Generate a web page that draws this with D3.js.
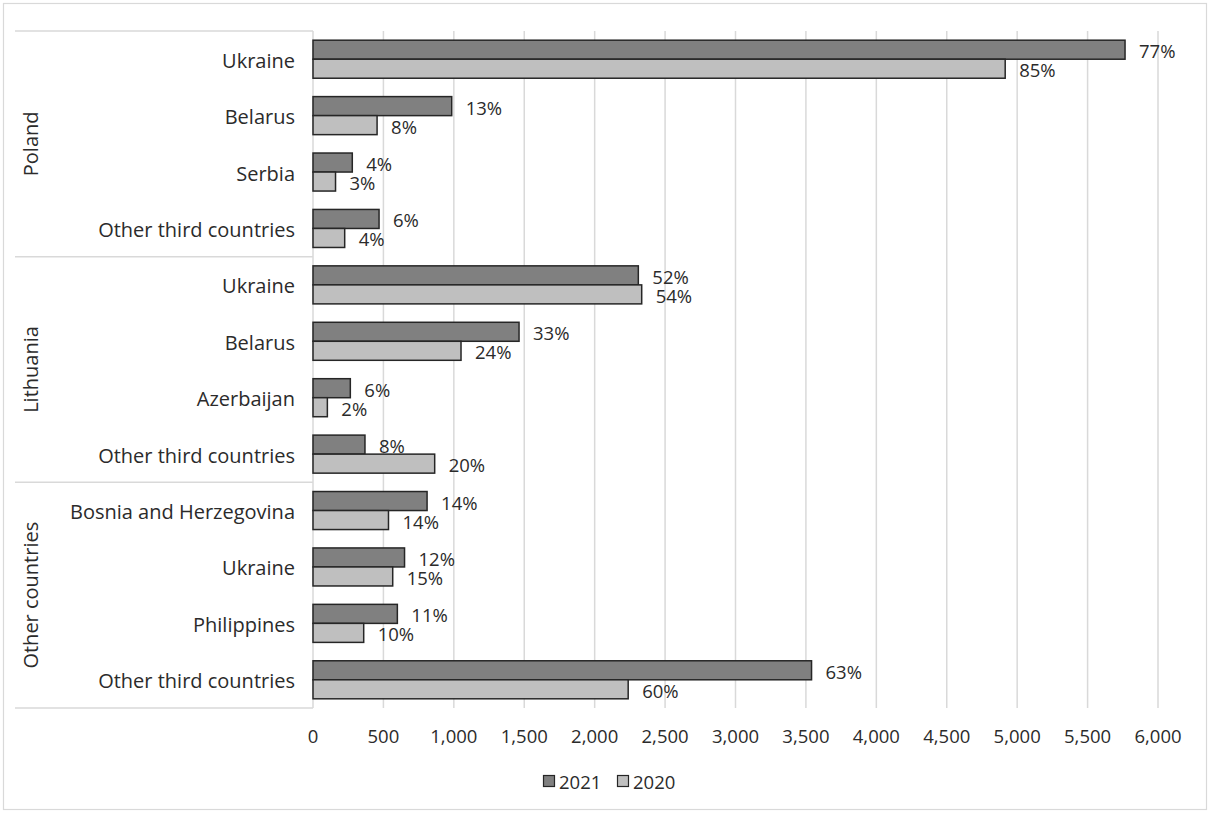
<!DOCTYPE html>
<html>
<head>
<meta charset="utf-8">
<script src="https://cdn.jsdelivr.net/npm/d3@7"></script>
<style>
  html, body { margin: 0; padding: 0; background: #fff; }
  svg { display: block; }
  text { font-family: "Century Gothic", "Open Sans", Lato, sans-serif; fill: #2b2b2b; }
</style>
</head>
<body>
<svg id="chart" width="1210" height="814"></svg>
<script>
// Destination groups and the countries listed under each
const groups = ["Poland", "Lithuania", "Other countries"];
const countries = [
  "Ukraine", "Belarus", "Serbia", "Other third countries",
  "Ukraine", "Belarus", "Azerbaijan", "Other third countries",
  "Bosnia and Herzegovina", "Ukraine", "Philippines", "Other third countries"
];

// Values per year
const series = ["2021", "2020"];
const values2021 = [5766, 985, 279, 469, 2310, 1463, 265, 369, 810, 650, 599, 3540];
const values2020 = [4915, 455, 160, 225, 2334, 1051, 102, 864, 536, 566, 360, 2238];

// Share of the group total, as printed next to each bar
const labels2021 = ["77%", "13%", "4%", "6%", "52%", "33%", "6%", "8%", "14%", "12%", "11%", "63%"];
const labels2020 = ["85%", "8%", "3%", "4%", "54%", "24%", "2%", "20%", "14%", "15%", "10%", "60%"];

// Value axis ticks
const xTicks = [0, 500, 1000, 1500, 2000, 2500, 3000, 3500, 4000, 4500, 5000, 5500, 6000];

const colors = { "2021": "#808080", "2020": "#bfbfbf" };
const gridColor = "#d9d9d9";
const labelSize = 20;   // category and group names
const numberSize = 18.5; // shares, ticks, legend

const svg = d3.select("#chart");

// outer frame
svg.append("rect")
  .attr("x", 3.5).attr("y", 3.5)
  .attr("width", 1203).attr("height", 806)
  .attr("fill", "none").attr("stroke", gridColor).attr("stroke-width", 1.2);

const plot = { left: 313, right: 1158, top: 31, bottom: 708 };

const x = d3.scaleLinear().domain([0, 6000]).range([plot.left, plot.right]);
const y = d3.scaleBand()
  .domain(d3.range(countries.length))
  .range([plot.top, plot.bottom])
  .paddingInner(0.326)
  .paddingOuter(0.163);
const ySeries = d3.scaleBand().domain(series).range([0, y.bandwidth()]);

// vertical gridlines
svg.append("g").selectAll("line")
  .data(xTicks.slice(1))
  .join("line")
  .attr("x1", d => x(d)).attr("x2", d => x(d))
  .attr("y1", plot.top).attr("y2", plot.bottom)
  .attr("stroke", gridColor).attr("stroke-width", 1.5);

// category axis line
svg.append("line")
  .attr("x1", x(0)).attr("x2", x(0))
  .attr("y1", plot.top).attr("y2", plot.bottom)
  .attr("stroke", gridColor).attr("stroke-width", 1.5);

// group separators
const groupSpan = y.step() * 4;
svg.append("g").selectAll("line")
  .data(d3.range(groups.length + 1))
  .join("line")
  .attr("x1", 15).attr("x2", x(0))
  .attr("y1", g => plot.top + g * groupSpan)
  .attr("y2", g => plot.top + g * groupSpan)
  .attr("stroke", gridColor).attr("stroke-width", 1.5);

// group labels
svg.append("g").selectAll("text")
  .data(groups)
  .join("text")
  .attr("transform", (d, g) => `translate(30,${plot.top + (g + 0.5) * groupSpan}) rotate(-90)`)
  .attr("text-anchor", "middle")
  .attr("dominant-baseline", "central")
  .attr("font-size", labelSize)
  .text(d => d);

// category labels
svg.append("g").selectAll("text")
  .data(countries)
  .join("text")
  .attr("x", 295)
  .attr("y", (d, i) => y(i) + y.bandwidth() / 2 + 1)
  .attr("text-anchor", "end")
  .attr("dominant-baseline", "central")
  .attr("font-size", labelSize)
  .text(d => d);

// bars
const rows = [];
countries.forEach((c, i) => {
  rows.push({ i, s: "2021", v: values2021[i], label: labels2021[i] });
  rows.push({ i, s: "2020", v: values2020[i], label: labels2020[i] });
});

svg.append("g").selectAll("rect")
  .data(rows)
  .join("rect")
  .attr("x", x(0))
  .attr("y", d => y(d.i) + ySeries(d.s))
  .attr("width", d => x(d.v) - x(0))
  .attr("height", ySeries.bandwidth())
  .attr("fill", d => colors[d.s])
  .attr("stroke", "#262626")
  .attr("stroke-width", 1.5);

// share labels
svg.append("g").selectAll("text")
  .data(rows)
  .join("text")
  .attr("x", d => x(d.v) + 14)
  .attr("y", d => y(d.i) + ySeries(d.s) + ySeries.bandwidth() / 2 + 1)
  .attr("dominant-baseline", "central")
  .attr("font-size", numberSize)
  .text(d => d.label);

// value axis labels
const fmt = d3.format(",");
svg.append("g").selectAll("text")
  .data(xTicks)
  .join("text")
  .attr("x", d => x(d))
  .attr("y", 735)
  .attr("text-anchor", "middle")
  .attr("dominant-baseline", "central")
  .attr("font-size", numberSize)
  .text(d => fmt(d));

// legend
const legend = svg.append("g");
const legendX = [543, 617];
series.forEach((s, k) => {
  legend.append("rect")
    .attr("x", legendX[k] + 0.5).attr("y", 775.5)
    .attr("width", 11).attr("height", 11)
    .attr("fill", colors[s]).attr("stroke", "#262626").attr("stroke-width", 1.2);
  legend.append("text")
    .attr("x", legendX[k] + 16).attr("y", 781)
    .attr("dominant-baseline", "central")
    .attr("font-size", numberSize)
    .text(s);
});
</script>
</body>
</html>
